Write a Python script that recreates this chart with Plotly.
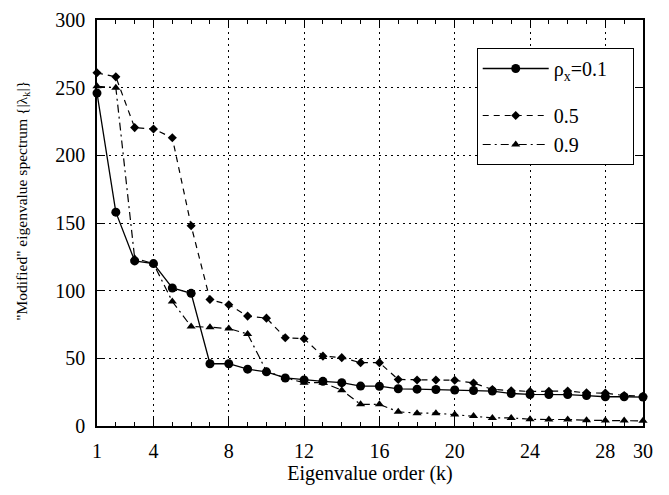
import plotly.graph_objects as go

k = list(range(1, 31))
rho_01 = [246, 158, 122, 120, 102, 98, 46, 46, 42, 40, 35.5, 34, 33, 32, 29.5,
          29.4, 27.5, 27.2, 27, 26.6, 26.2, 25.8, 24, 23.3, 23.3, 23.2, 22.5, 21.6, 21.6, 21.4]
rho_05 = [261, 258, 220.5, 219.5, 213, 148, 93.5, 89.6, 81.2, 79.7, 65.2, 64.5, 51.6, 50.5, 46.8,
          46.8, 34.4, 34, 34, 33.8, 31.8, 27, 26, 25.5, 25.7, 25.8, 24.5, 24.3, 22.5, 22]
rho_09 = [251, 250, 124, 120, 92, 73.5, 73, 72, 68, 40.5, 35.5, 32, 32, 26.5, 16,
          16, 10.5, 9.5, 9.5, 8.5, 7.3, 6, 6, 5, 4.8, 4.8, 4.2, 4, 4, 3.8]

names = ["\u03c1<sub>x</sub>=0.1\u2002\u2002", "0.5", "0.9"]
x_tickvals = [1, 4, 8, 12, 16, 20, 24, 28, 30]
y_tickvals = [0, 50, 100, 150, 200, 250, 300]
x_title = "Eigenvalue order (k)"
y_title = "\"Modified\" eigenvalue spectrum {|\u03bb<sub>k</sub>|}"

FONT = "Liberation Serif"

fig = go.Figure()
fig.add_trace(go.Scatter(x=k, y=rho_01, name=names[0], mode="lines+markers",
                         legendgroup="a",
                         line=dict(color="black", width=1.3),
                         marker=dict(symbol="circle", size=9, color="black"),
                         cliponaxis=False))
fig.add_trace(go.Scatter(x=k, y=rho_05, name=names[1], mode="lines+markers",
                         legendgroup="b",
                         line=dict(color="black", width=1.2, dash="6px,5px"),
                         marker=dict(symbol="diamond", size=7, color="black"),
                         cliponaxis=False))
fig.add_trace(go.Scatter(x=k, y=rho_09, name=names[2], mode="lines+markers",
                         legendgroup="b",
                         line=dict(color="black", width=1.2, dash="8px,4px,2px,4px"),
                         marker=dict(symbol="triangle-up", size=8, color="black"),
                         cliponaxis=False))

axis_common = dict(
    showline=True, linecolor="black", linewidth=1.5, mirror="ticks",
    ticks="inside", ticklen=8, tickwidth=1, tickcolor="black",
    showgrid=True, gridcolor="black", gridwidth=1, griddash="2px,4px",
    zeroline=False, automargin=False,
    tickfont=dict(family=FONT, size=20, color="black"),
)

fig.update_xaxes(
    range=[1, 30], tickmode="array", tickvals=x_tickvals,
    ticklabelstandoff=6,
    minor=dict(tickmode="array", tickvals=k, ticklen=4, tickcolor="black",
               ticks="inside", showgrid=False),
    title=dict(text=x_title, font=dict(family=FONT, size=20, color="black"),
               standoff=3),
    **axis_common,
)
fig.update_yaxes(
    range=[0, 300], tickmode="array", tickvals=y_tickvals,
    ticklabelstandoff=6,
    **axis_common,
)

fig.add_annotation(
    text=y_title, textangle=-90, showarrow=False,
    xref="paper", yref="paper", x=-0.137, y=0.555, xanchor="center", yanchor="middle",
    font=dict(family=FONT, size=15.5, color="black"),
)

fig.update_layout(
    width=669, height=495,
    margin=dict(l=97, r=26, t=20, b=69),
    paper_bgcolor="white", plot_bgcolor="white",
    font=dict(family=FONT, color="black"),
    showlegend=True,
    legend=dict(x=0.983, y=0.931, xanchor="right", yanchor="top",
                bgcolor="white", bordercolor="black", borderwidth=1,
                font=dict(family=FONT, size=20, color="black"),
                itemwidth=66, tracegroupgap=18),
)

fig.write_html("out.html")
